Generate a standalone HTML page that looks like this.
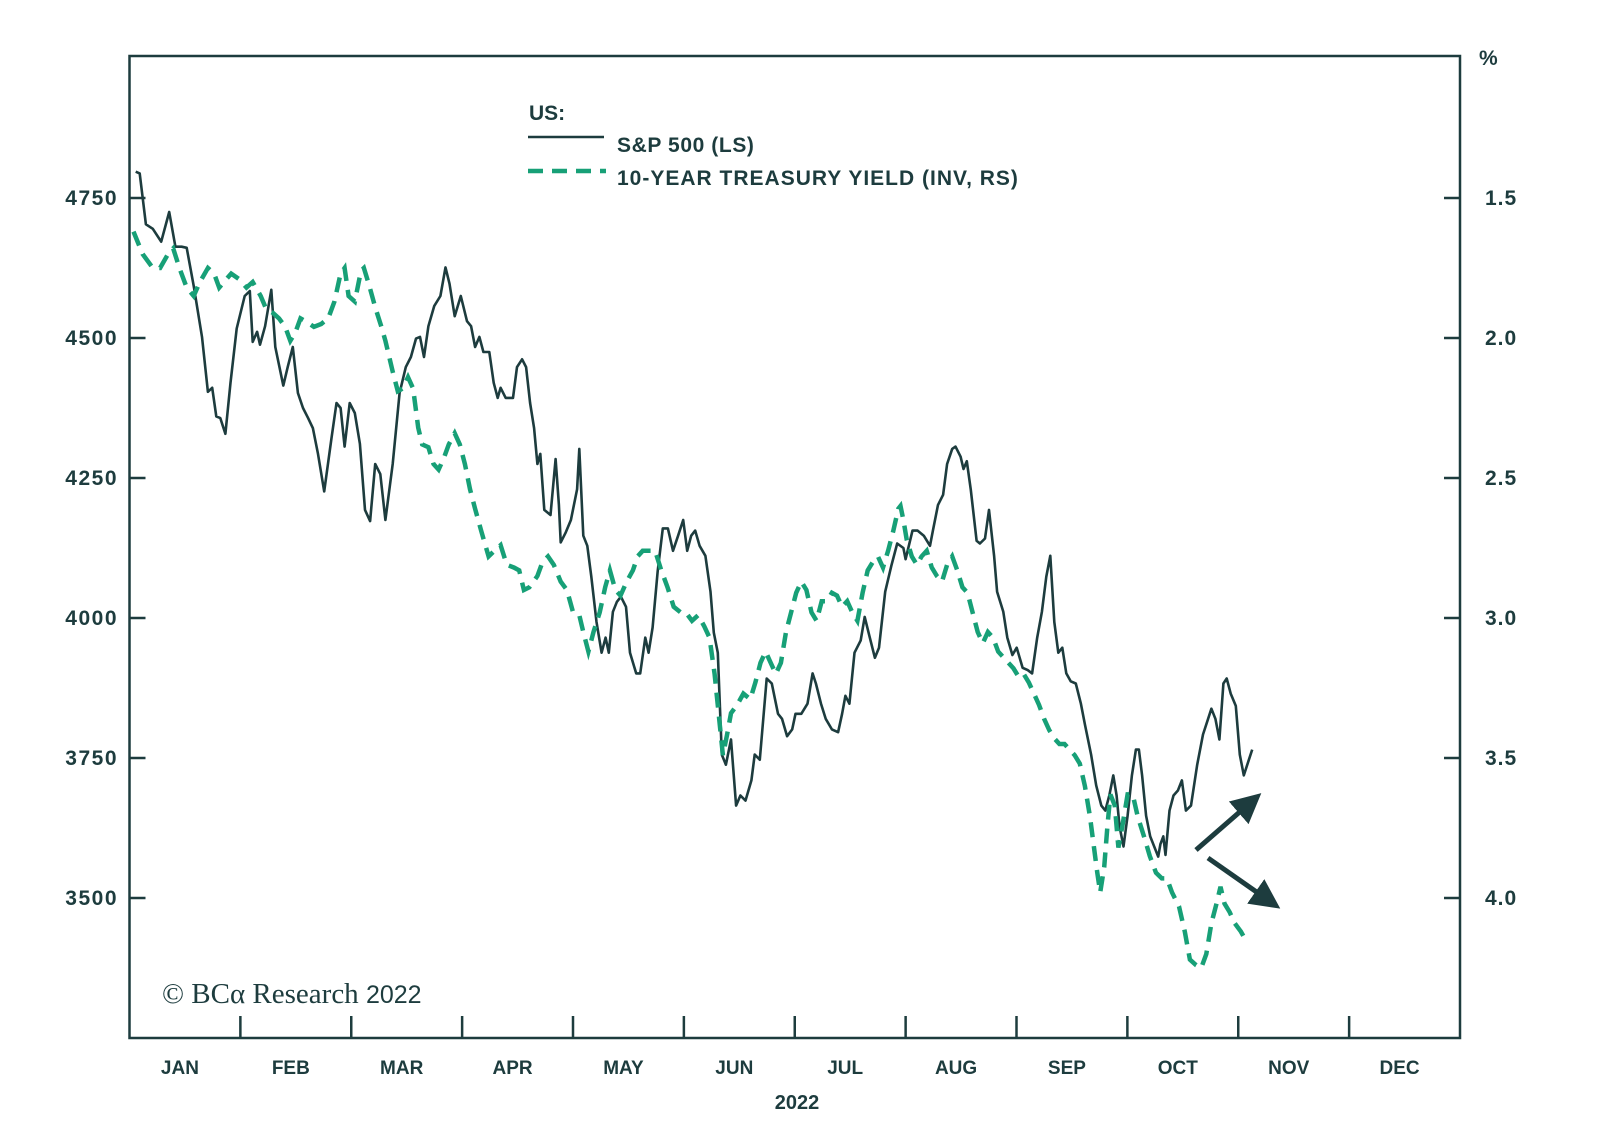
<!DOCTYPE html>
<html><head><meta charset="utf-8"><style>
html,body{margin:0;padding:0;background:#fff;}
svg{display:block;}
text{font-family:"Liberation Sans",sans-serif;fill:#1d3c3e;}
</style></head><body>
<svg id="chart" width="1600" height="1123" viewBox="0 0 1600 1123">
<g id="axes"></g><g id="series"></g><g id="deco"></g>
</svg>
<script>
const spDays=[1.7,2.8,4.5,6.4,8.7,10.9,12.6,14.3,15.7,17.6,19.9,21.5,22.7,23.8,24.9,26.3,27.7,29.4,31.6,33,33.8,35,35.8,37.2,38.9,40,42.2,43.4,44.8,46.2,47.6,49,50.3,51.7,53.4,55.4,56.8,57.9,59,60.4,61.8,63.2,64.6,66,67.4,68.8,70.2,72.2,74.1,75.8,77.2,78.6,79.7,80.8,82,83.6,85.3,86.7,87.8,89.2,90.9,92.6,93.7,94.8,96,97.1,98.7,99.9,101,101.8,103.2,105.2,106.3,107.7,108.8,109.9,111,111.9,112.7,113.8,115.5,116.9,117.8,118.3,119.7,121.1,122.8,123.4,124.5,125.6,126.7,128.1,129.5,130.6,131.5,132.6,133.7,134.8,136.2,137.3,139,140.1,141.5,142.4,143.5,144.9,146.3,147.7,149.1,150.5,151.9,153,154.1,155.2,156.4,158,159.4,160.3,161.4,162.5,163.6,165,166.4,167.6,169,170.6,171.5,172.9,174.8,176.2,177.9,179,180.4,181.8,182.7,184.3,186,187.4,188.3,189.7,191,192.7,194.4,195.5,196.4,197.5,198.9,200.6,201.7,203.1,204.5,205.6,207.3,209,210.6,212.3,212.9,214.8,216.2,217.9,219.6,220.4,221.8,223.2,224.3,225.7,226.6,228,228.8,229.7,230.8,232.4,233.3,234.7,235.8,237.2,238,239.7,240.8,242.2,243.4,245,246.4,247.6,249,250.3,251.5,252.6,253.7,254.8,255.9,257,258.2,259.6,261,262.1,263.8,265.2,266.6,267.7,268.8,269.9,270.8,271.6,272.7,273.8,275,276.1,276.9,277.8,278.9,280,281.4,282.2,282.8,283.6,284.2,285.3,286.4,287.6,288.7,289.8,291.2,292.9,294.5,296.8,297.9,299,300.1,301,302.1,303.5,304.6,305.7,307.1,308];
const spValues=[4797,4794,4703,4695,4672,4725,4663,4663,4661,4593,4502,4404,4411,4360,4357,4329,4420,4517,4575,4584,4493,4511,4488,4521,4586,4484,4415,4448,4484,4402,4375,4357,4339,4293,4226,4320,4384,4375,4306,4384,4366,4311,4193,4173,4275,4257,4175,4275,4402,4448,4466,4499,4502,4466,4521,4557,4575,4626,4597,4539,4575,4530,4521,4484,4502,4475,4475,4420,4393,4411,4393,4393,4448,4462,4448,4384,4339,4275,4293,4193,4184,4284,4202,4135,4153,4175,4230,4302,4147,4129,4074,3993,3938,3965,3938,4011,4029,4038,4020,3938,3901,3901,3965,3938,3983,4084,4160,4160,4120,4147,4175,4120,4147,4156,4129,4111,4047,3974,3938,3756,3738,3783,3665,3683,3674,3710,3756,3747,3892,3883,3829,3820,3789,3801,3829,3829,3847,3901,3883,3847,3820,3801,3796,3829,3861,3847,3938,3960,4002,3965,3929,3947,4047,4093,4133,4125,4105,4156,4156,4147,4129,4156,4202,4220,4275,4302,4306,4288,4266,4280,4229,4138,4133,4142,4193,4111,4047,4011,3965,3934,3947,3911,3907,3901,3965,4011,4074,4111,3993,3938,3947,3901,3887,3883,3847,3810,3756,3701,3665,3656,3683,3719,3683,3628,3592,3647,3719,3765,3765,3719,3647,3610,3587,3574,3596,3610,3577,3656,3683,3692,3710,3656,3665,3738,3792,3838,3820,3783,3883,3892,3865,3843,3756,3719,3747,3765];
const tyDays=[1.1,3.6,6.4,8.4,10.6,12,13.7,15.7,17.6,19.3,21.5,23.2,24.6,25.9,27.9,30.1,32.1,33.8,36,37.6,39.3,41,42.7,44.1,45.5,46.9,48.3,50.6,52.6,54.5,56.2,57.9,59,60.1,61.8,63.5,64.3,65.7,67.4,69.1,70.2,72.2,73.6,75,76.4,77.8,79.2,80.3,82,83.4,84.8,86.2,87.6,89.2,90.6,92,93.4,94.8,96.5,98.5,100.1,101.8,103.5,105.5,106.9,108.2,109.7,111.9,113.3,114.8,116.4,118.3,120,121.7,123.4,124.5,125.9,127.3,129,130.5,131.8,133.3,134.7,136.4,138.1,139.4,140.8,142.5,144.2,145.9,147.6,149.3,151.2,152.6,154.3,156,157.7,159.1,160.5,161.6,162.8,163.9,165,166.7,168.4,170.3,171.7,173.1,174.5,175.9,177.3,178.7,180.1,181.5,182.9,184.3,185.7,187.1,188.5,189.9,191.3,192.7,194.1,195.5,196.9,198.3,199.7,201.1,202.5,203.9,205.3,206.7,208.1,209.5,210.9,211.5,212.3,213.2,214.6,216,217.3,218.7,220.1,221.5,222.9,224.3,225.7,227.1,228.5,229.9,231.3,232.7,234.1,235.5,236.9,238.3,239.7,241.1,242.5,243.9,245.3,246.7,248.1,249.5,250.9,252.3,253.7,255.1,256.5,257.9,259.3,260.7,262.1,263.5,264.6,265.5,266.3,267.4,268.3,269.1,270.3,271.3,272.4,273.8,275.2,276.6,278.3,279.9,281.6,283.2,284.6,286,287.9,289.5,290.9,292.6,294,295.4,296.8,298.2,299.3,300.4,301.8,303.2,304.9,306.6];
const tyValues=[1.62,1.70,1.75,1.75,1.70,1.68,1.75,1.82,1.85,1.80,1.75,1.77,1.82,1.80,1.77,1.79,1.82,1.80,1.85,1.90,1.91,1.93,1.96,2.01,1.98,1.93,1.94,1.96,1.95,1.93,1.87,1.77,1.75,1.85,1.87,1.76,1.75,1.81,1.89,1.96,2.01,2.12,2.19,2.18,2.14,2.18,2.32,2.38,2.39,2.45,2.47,2.43,2.38,2.34,2.38,2.45,2.54,2.61,2.69,2.78,2.76,2.74,2.81,2.82,2.83,2.90,2.89,2.85,2.80,2.78,2.81,2.87,2.90,2.98,2.99,3.05,3.12,3.05,2.98,2.89,2.83,2.90,2.92,2.87,2.83,2.78,2.76,2.76,2.76,2.83,2.89,2.96,2.98,2.98,3.01,2.99,3.03,3.07,3.20,3.34,3.49,3.42,3.34,3.31,3.27,3.29,3.23,3.16,3.12,3.16,3.20,3.16,3.05,2.98,2.91,2.87,2.90,2.98,3.01,2.94,2.94,2.91,2.92,2.96,2.94,2.98,3.01,2.91,2.83,2.80,2.78,2.82,2.76,2.69,2.61,2.60,2.65,2.72,2.78,2.81,2.78,2.76,2.82,2.85,2.87,2.81,2.78,2.83,2.89,2.91,2.98,3.05,3.09,3.05,3.07,3.12,3.14,3.16,3.18,3.21,3.20,3.23,3.27,3.31,3.36,3.40,3.43,3.45,3.45,3.47,3.49,3.52,3.60,3.71,3.82,3.91,3.98,3.89,3.74,3.63,3.67,3.82,3.74,3.63,3.63,3.71,3.78,3.85,3.91,3.93,3.93,3.98,4.03,4.12,4.22,4.24,4.25,4.20,4.09,4.02,3.96,4.02,4.05,4.09,4.12,4.16];
const leftTicks=[4750,4500,4250,4000,3750,3500];
const leftTickLabels=["4750","4500","4250","4000","3750","3500"];
const rightTicks=[1.5,2.0,2.5,3.0,3.5,4.0];
const rightTickLabels=["1.5","2.0","2.5","3.0","3.5","4.0"];
const monthLabels=["JAN","FEB","MAR","APR","MAY","JUN","JUL","AUG","SEP","OCT","NOV","DEC"];

const L=129.5,R=1460,T=56,B=1038;
const xScale=d=>L+d*(R-L)/365;
const yLeft=v=>198+(4750-v)*140/250;
const yRight=v=>198+(v-1.5)*280;
const NS="http://www.w3.org/2000/svg";
const C="#1d3c3e",G="#17a077";
function mk(tag,attrs,parent){const e=document.createElementNS(NS,tag);for(const k in attrs)e.setAttribute(k,attrs[k]);parent.appendChild(e);return e;}
const axes=document.getElementById('axes'),series=document.getElementById('series');

let frame=mk('rect',{x:L,y:T,width:R-L,height:B-T,fill:'none',stroke:C,'stroke-width':2.5},axes);



leftTicks.forEach((v,i)=>{
  const y=yLeft(v);
  let t=mk('line',{x1:L,x2:L+16,y1:y,y2:y,stroke:C,'stroke-width':2.5},axes);
  
  
  let tx=mk('text',{x:118,y:y+7,'text-anchor':'end','font-size':21,'font-weight':'bold','letter-spacing':1.5},axes);
  tx.textContent=leftTickLabels[i];
  
  
});
rightTicks.forEach((v,i)=>{
  const y=yRight(v);
  let t=mk('line',{x1:R-16,x2:R,y1:y,y2:y,stroke:C,'stroke-width':2.5},axes);
  
  
  let tx=mk('text',{x:1485,y:y+7,'font-size':21,'font-weight':'bold','letter-spacing':1},axes);
  tx.textContent=rightTickLabels[i];
  
  
});
const mw=(R-L)/12;
monthLabels.forEach((m,i)=>{
  if(i>0){let t=mk('line',{x1:L+i*mw,x2:L+i*mw,y1:B-22,y2:B,stroke:C,'stroke-width':2.5},axes);
  
  }
  let tx=mk('text',{x:L+(i+0.5)*mw-5,y:1074,'text-anchor':'middle','font-size':19,'font-weight':'bold'},axes);
  tx.textContent=m;
  
  
});

function pathD(days,vals,ys){return days.map((d,i)=>(i?'L':'M')+xScale(d).toFixed(1)+','+ys(vals[i]).toFixed(1)).join(' ');}
let sp=mk('path',{d:pathD(spDays,spValues,yLeft),fill:'none',stroke:C,'stroke-width':2.6,'stroke-linejoin':'round'},series);


let ty=mk('path',{d:pathD(tyDays,tyValues,yRight),fill:'none',stroke:G,'stroke-width':4.5,'stroke-dasharray':'15 9'},series);


</script>
<svg style="position:absolute;left:0;top:0" width="1600" height="1123">
<defs><marker id="ah" markerWidth="6" markerHeight="6" refX="3" refY="3" orient="auto" markerUnits="strokeWidth"><path d="M0,0 L6,3 L0,6 z" fill="#1d3c3e"/></marker></defs>
<text x="1479" y="65" font-size="21" font-weight="bold">%</text>
<text x="797" y="1109" text-anchor="middle" font-size="20" font-weight="bold">2022</text>
<g>
<text x="529" y="120" font-size="21" font-weight="bold">US:</text>
<line x1="528" y1="137" x2="604" y2="137" stroke="#1d3c3e" stroke-width="2.6"/>
<text x="617" y="152" font-size="21" font-weight="bold" letter-spacing="0.6">S&amp;P 500 (LS)</text>
<line x1="528" y1="171" x2="606" y2="171" stroke="#17a077" stroke-width="4.5" stroke-dasharray="15 9"/>
<text x="617" y="185" font-size="21" font-weight="bold" letter-spacing="1">10-YEAR TREASURY YIELD (INV, RS)</text>
</g>
<text x="162" y="1003" font-size="29" style="font-family:'Liberation Serif',serif">© BCα Research <tspan font-size="25" style="font-family:'Liberation Sans',sans-serif">2022</tspan></text>
<line x1="1196" y1="850" x2="1250" y2="803" stroke="#1d3c3e" stroke-width="5" marker-end="url(#ah)"/>
<line x1="1208" y1="858" x2="1268" y2="900" stroke="#1d3c3e" stroke-width="5" marker-end="url(#ah)"/>
</svg>
</body></html>
